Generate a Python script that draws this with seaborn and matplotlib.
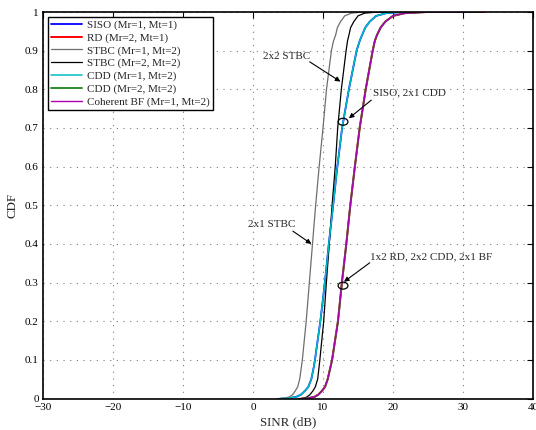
import matplotlib
matplotlib.use("Agg")
import matplotlib.pyplot as plt
from matplotlib.patches import Ellipse
import seaborn as sns
import pandas as pd

# CDF levels at which the SINR of each scheme is tabulated (first/last rows are the flat tails)
cdf_levels = [0.0, 0.0, 0.004, 0.01, 0.02, 0.03, 0.05, 0.08, 0.1, 0.2, 0.3, 0.4,
              0.5, 0.6, 0.7, 0.8, 0.9, 0.925, 0.94, 0.96, 0.975, 0.99, 0.997,
              1.0, 1.0]

# SINR (dB) reached by each scheme at the CDF levels above
siso_db = [4.0, 4.7, 6.14, 6.86, 7.43, 7.9, 8.33, 8.67, 8.85, 9.62, 10.27, 10.83,
           11.45, 12.05, 12.73, 13.7, 14.8, 15.24, 15.57, 16.05, 16.67, 17.6, 19.05,
           21.4, 30.0]
rd_db = [7.0, 7.57, 8.76, 9.33, 9.86, 10.29, 10.67, 11.05, 11.3, 12.14, 12.7, 13.33,
         13.9, 14.55, 15.24, 16.1, 17.1, 17.4, 17.7, 18.24, 18.9, 20.0, 21.7,
         24.8, 33.0]
stbc_1x2_db = [3.5, 4.25, 5.2, 5.67, 6.05, 6.38, 6.67, 6.9, 7.05, 7.6, 8.05, 8.5,
               8.95, 9.45, 10.0, 10.5, 11.2, 11.5, 11.8, 12.06, 12.5, 13.1, 14.05,
               15.7, 26.0]
stbc_2x2_db = [6.5, 7.1, 7.7, 8.14, 8.57, 8.9, 9.24, 9.43, 9.55, 10.1, 10.48, 10.9,
               11.3, 11.75, 12.1, 12.62, 13.3, 13.5, 13.7, 13.95, 14.4, 15.0, 15.95,
               17.9, 28.0]
cdd_1x2_db = list(siso_db)
cdd_2x2_db = rd_db[:-1] + [32.0]
bf_db = rd_db[:-1] + [31.0]

labels = ["SISO (Mr=1, Mt=1)", "RD (Mr=2, Mt=1)", "STBC (Mr=1, Mt=2)",
          "STBC (Mr=2, Mt=2)", "CDD (Mr=1, Mt=2)", "CDD (Mr=2, Mt=2)",
          "Coherent BF (Mr=1, Mt=2)"]
series = [siso_db, rd_db, stbc_1x2_db, stbc_2x2_db, cdd_1x2_db, cdd_2x2_db, bf_db]
colors = ["#0000ff", "#ff0000", "#6e6e6e", "#000000", "#00bfbf", "#2e8b2e", "#b000b0"]
widths = [1.3, 1.4, 0.9, 0.9, 1.1, 1.4, 1.0]

x_ticks = [-30, -20, -10, 0, 10, 20, 30, 40]
y_ticks = [0, 0.1, 0.2, 0.3, 0.4, 0.5, 0.6, 0.7, 0.8, 0.9, 1]
y_tick_labels = ["0", "0.1", "0.2", "0.3", "0.4", "0.5", "0.6", "0.7", "0.8", "0.9", "1"]

# callouts: text, text position, arrow tail, arrow head, optional circle marker
callouts = [
    ("2x2 STBC", (4.74, 0.886), (8.1, 0.871), (12.49, 0.82), None),
    ("SISO, 2x1 CDD", (22.3, 0.79), (16.9, 0.772), (13.7, 0.725), (12.86, 0.716)),
    ("2x1 STBC", (2.6, 0.451), (5.7, 0.433), (8.34, 0.40), None),
    ("1x2 RD, 2x2 CDD, 2x1 BF", (25.5, 0.367), (16.67, 0.351), (13.0, 0.302), (12.86, 0.292)),
]

sns.set_style("white")
plt.rcParams["font.family"] = ["Liberation Serif", "DejaVu Serif"]
plt.rcParams["axes.unicode_minus"] = True

fig = plt.figure(figsize=(5.36, 4.30), dpi=100)
ax = fig.add_axes([43 / 536, 1 - 398.5 / 430, 490 / 536, 386.5 / 430])

for lab, xs, col, lw in zip(labels, series, colors, widths):
    df = pd.DataFrame({"SINR": xs, "CDF": cdf_levels})
    sns.lineplot(data=df, x="SINR", y="CDF", sort=False, estimator=None,
                 color=col, lw=lw, label=lab, ax=ax)

ax.set_xlim(-30, 40)
ax.set_ylim(0, 1)
ax.set_xticks(x_ticks)
ax.set_yticks(y_ticks)
ax.set_yticklabels(y_tick_labels)
ax.grid(True, linestyle=(0, (1, 5)), color="#7a7a7a", lw=0.8)
ax.tick_params(direction="in", length=4, width=0.8, top=True, right=True,
               labelsize=8, colors="black", pad=3)
for sp in ax.spines.values():
    sp.set_color("black")
    sp.set_linewidth(1.2)
ax.set_xlabel("SINR (dB)", fontsize=9.3, labelpad=3)
ax.set_ylabel("CDF", fontsize=9.3, labelpad=5)

for text, tpos, tail, head, circ in callouts:
    ax.text(tpos[0], tpos[1], text, fontsize=8, ha="center", va="center")
    ax.annotate("", xy=head, xytext=tail,
                arrowprops=dict(arrowstyle="-|>", color="black", lw=0.8,
                                mutation_scale=7, shrinkA=0, shrinkB=0))
    if circ is not None:
        ax.add_patch(Ellipse(circ, width=1.4, height=0.018, fill=False,
                             edgecolor="black", lw=0.9, zorder=5))

leg = ax.legend(loc="upper left", bbox_to_anchor=(0.0096, 0.988),
                borderaxespad=0, fontsize=8, handlelength=2.8,
                handletextpad=0.4, labelspacing=0.25, borderpad=0.3,
                fancybox=False, framealpha=1, edgecolor="black")
leg.get_frame().set_linewidth(1.0)

fig.savefig("out.png", dpi=100)
